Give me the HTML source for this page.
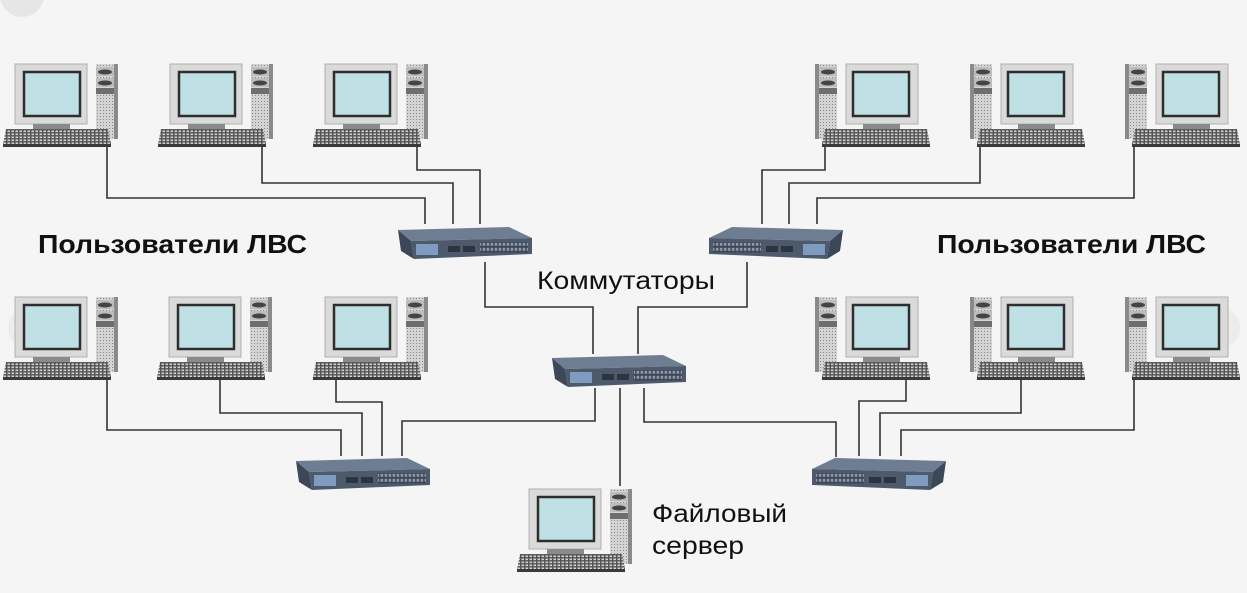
<!DOCTYPE html>
<html><head><meta charset="utf-8"><style>
html,body{margin:0;padding:0;background:#f5f5f5;}
svg{display:block;}
text{font-family:"Liberation Sans",sans-serif;fill:#111;}
</style></head><body>
<svg width="1247" height="593" viewBox="0 0 1247 593" xmlns="http://www.w3.org/2000/svg">
<defs>
<pattern id="kb" width="4" height="3" patternUnits="userSpaceOnUse">
<rect width="4" height="3" fill="#555"/><rect x="0.5" y="0.5" width="2.5" height="1.6" fill="#d0d0d0"/></pattern>
<pattern id="tw" width="3" height="3" patternUnits="userSpaceOnUse">
<rect width="3" height="3" fill="#d4d4d4"/><rect x="1" y="1" width="1" height="1" fill="#888"/></pattern>
<pattern id="pt" width="4" height="5" patternUnits="userSpaceOnUse">
<rect width="4" height="5" fill="#3c4656"/><rect x="0.6" y="0.8" width="2.6" height="3" fill="#8d98a8"/></pattern>
<g id="pc">
<rect x="0" y="0" width="72" height="60" fill="#dadada" stroke="#b0b0b0"/>
<rect x="9" y="8" width="56" height="44" fill="#bfe0e4" stroke="#2e2e2e" stroke-width="2.5"/>
<rect x="18" y="60" width="37" height="5" fill="#8a8a8a"/>
<rect x="81" y="0" width="22" height="75" fill="url(#tw)"/>
<rect x="99" y="0" width="4" height="75" fill="#8a8a8a"/>
<rect x="81" y="3" width="18" height="9" fill="#bdbdbd"/><ellipse cx="90" cy="8" rx="7" ry="2.5" fill="#444"/>
<rect x="81" y="14" width="18" height="9" fill="#bdbdbd"/><ellipse cx="90" cy="19" rx="7" ry="2.5" fill="#444"/>
<rect x="81" y="24" width="18" height="6" fill="#6e6e6e"/>
<polygon points="-9,65 93,65 96,80 -12,80" fill="url(#kb)"/>
<rect x="-12" y="80" width="108" height="3" fill="#3a3a3a"/>
</g>
<g id="sw">
<polygon points="0,3 111,0 134,11 13,14" fill="#6e7d92"/>
<polygon points="13,14 134,11 134,27 16,32" fill="#4c5a6c"/>
<polygon points="0,3 13,14 16,32 3,24" fill="#3c4858"/>
<rect x="18" y="17" width="22" height="11" fill="#7f9cc0"/>
<rect x="50" y="19" width="12" height="6" fill="#2c3440"/>
<rect x="65" y="19" width="12" height="6" fill="#2c3440"/>
<rect x="82" y="15" width="48" height="11" fill="url(#pt)"/>
</g>
</defs>
<circle cx="22" cy="-5" r="22" fill="#e6e6e6"/>
<circle cx="28" cy="328" r="20" fill="#ececec"/>
<circle cx="1220" cy="328" r="20" fill="#ececec"/>

<g fill="none" stroke="#333" stroke-width="1.6">
<polyline points="107,147 107,198 425,198 425,224"/>
<polyline points="262,147 262,183 453,183 453,224"/>
<polyline points="417,147 417,170 480,170 480,224"/>
<polyline points="825,147 825,170 762,170 762,224"/>
<polyline points="980,147 980,183 789,183 789,224"/>
<polyline points="1134,147 1134,198 817,198 817,224"/>
<polyline points="485,262 485,307 593,307 593,354"/>
<polyline points="747,262 747,307 638,307 638,354"/>
<polyline points="107,380 107,430 341,430 341,456"/>
<polyline points="220,380 220,413 362,413 362,456"/>
<polyline points="336,380 336,402 382,402 382,456"/>
<polyline points="402,456 402,421 595,421 595,388"/>
<polyline points="644,388 644,422 836,422 836,457"/>
<polyline points="906,380 906,401 859,401 859,456"/>
<polyline points="1021,380 1021,413 880,413 880,456"/>
<polyline points="1134,380 1134,430 901,430 901,456"/>
<polyline points="620,388 620,486"/>
</g>

<use href="#pc" x="15" y="64"/>
<use href="#pc" x="170" y="64"/>
<use href="#pc" x="325" y="64"/>
<use href="#pc" x="15" y="297"/>
<use href="#pc" x="169" y="297"/>
<use href="#pc" x="325" y="297"/>
<use href="#pc" transform="translate(918,64) scale(-1,1)"/>
<use href="#pc" transform="translate(1073,64) scale(-1,1)"/>
<use href="#pc" transform="translate(1228,64) scale(-1,1)"/>
<use href="#pc" transform="translate(918,297) scale(-1,1)"/>
<use href="#pc" transform="translate(1073,297) scale(-1,1)"/>
<use href="#pc" transform="translate(1228,297) scale(-1,1)"/>
<use href="#pc" x="529" y="489"/>

<use href="#sw" x="398" y="227"/>
<use href="#sw" transform="translate(843,227) scale(-1,1)"/>
<use href="#sw" x="552" y="355"/>
<use href="#sw" x="296" y="458"/>
<use href="#sw" transform="translate(946,458) scale(-1,1)"/>

<text x="38" y="253" font-size="26" font-weight="bold" textLength="269" lengthAdjust="spacingAndGlyphs">Пользователи ЛВС</text>
<text x="937" y="253" font-size="26" font-weight="bold" textLength="269" lengthAdjust="spacingAndGlyphs">Пользователи ЛВС</text>
<text x="537" y="289" font-size="25" textLength="178" lengthAdjust="spacingAndGlyphs">Коммутаторы</text>
<text x="652" y="522" font-size="25" textLength="135" lengthAdjust="spacingAndGlyphs">Файловый</text>
<text x="652" y="554" font-size="25" textLength="92" lengthAdjust="spacingAndGlyphs">сервер</text>
</svg>
</body></html>
